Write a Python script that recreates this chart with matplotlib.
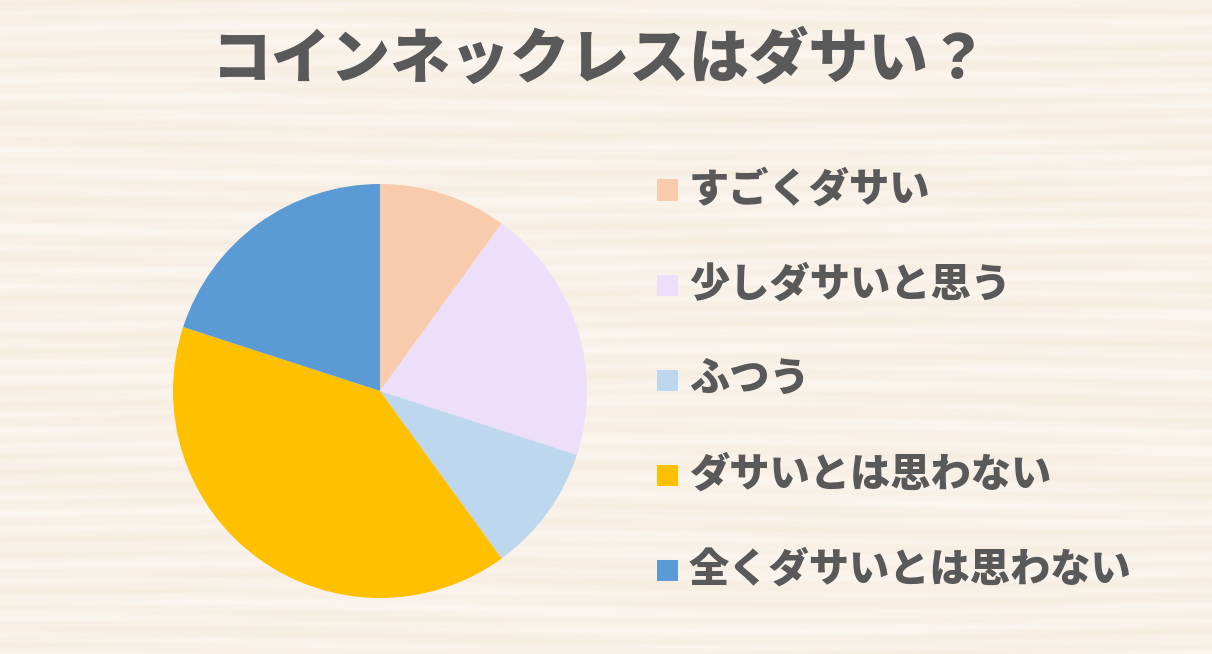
"""Gráfico circular: ¿el collar de monedas es ダサい? (encuesta)."""
import numpy as np
import matplotlib.pyplot as plt
from matplotlib.patches import Rectangle

plt.rcParams['font.family'] = ['Noto Sans CJK JP', 'DejaVu Sans']

# datos
title = "コインネックレスはダサい？"
labels = ["すごくダサい", "少しダサいと思う", "ふつう", "ダサいとは思わない", "全くダサいとは思わない"]
values = [10, 20, 10, 40, 20]
colors = ["#F8CBAD", "#EDDFF9", "#BDD7EE", "#FFC000", "#5B9BD5"]

W, H = 1212, 654
TEXT_COLOR = "#595959"

fig = plt.figure(figsize=(W / 100, H / 100), dpi=100)

# fondo tipo madera (vetas horizontales suaves, deterministas)
bg = fig.add_axes([0, 0, 1, 1])
yy, xx = np.mgrid[0:H:1, 0:W:4]
veta = (np.sin(yy * 0.35 + 2.5 * np.sin(xx * 0.004 + yy * 0.013))
        + 0.7 * np.sin(yy * 0.11 + 1.8 * np.sin(xx * 0.006 + yy * 0.02))
        + 0.4 * np.sin(yy * 0.83 + 3.0 * np.sin(xx * 0.003)))
veta = (veta - veta.min()) / (veta.max() - veta.min())
c1 = np.array([0.985, 0.965, 0.945])
c2 = np.array([0.955, 0.905, 0.835])
img = c1 + (c2 - c1) * veta[..., None] * 0.6
bg.imshow(img, aspect="auto", extent=[0, 1, 0, 1], interpolation="bilinear")
bg.set_axis_off()

# título
fig.text(600 / W, 1 - 60 / H, title, ha="center", va="center",
         fontsize=43, fontweight="heavy", color=TEXT_COLOR)

# pastel
cx, cy, r = 380, 391, 207
ax = fig.add_axes([(cx - r) / W, (H - cy - r) / H, 2 * r / W, 2 * r / H])
ax.pie(values, colors=colors, startangle=90, counterclock=False,
       wedgeprops=dict(linewidth=0))
ax.set_xlim(-1, 1)
ax.set_ylim(-1, 1)
ax.set_aspect("equal")
ax.set_axis_off()

# leyenda manual
y0, paso = 190, 95
sq = 21
for i, (lab, col) in enumerate(zip(labels, colors)):
    yc = y0 + i * paso
    fig.patches.append(Rectangle((657 / W, (H - yc - sq / 2) / H), sq / W, sq / H,
                                 transform=fig.transFigure, facecolor=col,
                                 edgecolor="none"))
    fig.text(689 / W, 1 - yc / H, lab, ha="left", va="center",
             fontsize=29, fontweight="heavy", color=TEXT_COLOR)

fig.savefig("out.png", dpi=100)
